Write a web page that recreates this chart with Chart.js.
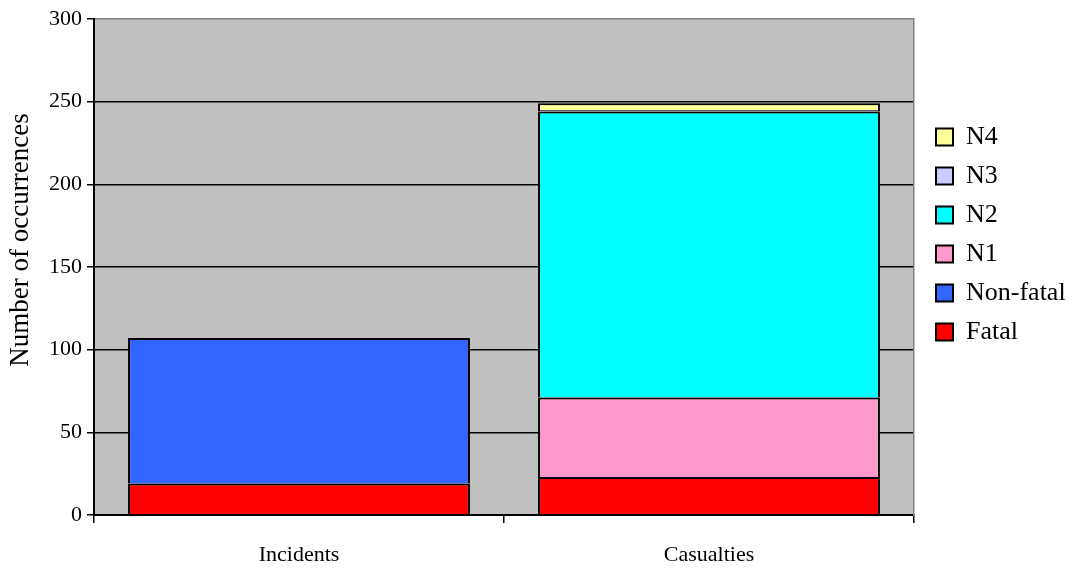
<!DOCTYPE html>
<html>
<head>
<meta charset="utf-8">
<script src="https://cdn.jsdelivr.net/npm/chart.js@4"></script>
<style>
  html, body { margin: 0; padding: 0; background: #ffffff; }
  #wrap { width: 1073px; height: 568px; position: relative; }
</style>
</head>
<body>
<div id="wrap"><canvas id="c"></canvas></div>
<script>
// ---- data ----
const categories = ['Incidents', 'Casualties'];
const fatal    = [19, 23];
const nonFatal = [88, null];
const n1       = [null, 48];
const n2       = [null, 173];
const n3       = [null, 1];
const n4       = [null, 4];
const yMin = 0, yMax = 300, yStep = 50;
const yTitle = 'Number of occurrences';

const FONT = "'Liberation Serif', 'Times New Roman', serif";

const plotBg = {
  id: 'plotBg',
  beforeDraw(chart) {
    const { ctx, chartArea: a } = chart;
    ctx.save();
    ctx.fillStyle = '#C0C0C0';
    ctx.fillRect(a.left, a.top, a.right - a.left, a.bottom - a.top);
    ctx.restore();
  }
};

function ds(label, data, color) {
  return {
    label, data,
    backgroundColor: color,
    borderColor: '#000000',
    borderWidth: 2,
    barPercentage: 0.834,
    categoryPercentage: 1.0
  };
}

new Chart(document.getElementById('c'), {
  type: 'bar',
  data: {
    labels: categories,
    datasets: [
      ds('Fatal', fatal, '#FF0000'),
      ds('Non-fatal', nonFatal, '#3366FF'),
      ds('N1', n1, '#FF99CC'),
      ds('N2', n2, '#00FFFF'),
      ds('N3', n3, '#CCCCFF'),
      ds('N4', n4, '#FFFF99')
    ]
  },
  options: {
    responsive: true,
    maintainAspectRatio: false,
    animation: false,
    layout: { padding: { left: 0, right: 0, top: 19, bottom: 0 } },
    plugins: {
      tooltip: { enabled: false },
      legend: {
        position: 'right',
        align: 'start',
        reverse: true,
        maxWidth: 150,
        title: { display: true, text: ' ', padding: { top: 82, bottom: 0 }, font: { size: 10, lineHeight: 1 } },
        labels: {
          boxWidth: 17, boxHeight: 17, padding: 13,
          color: '#000000',
          font: { family: FONT, size: 26 }
        }
      }
    },
    scales: {
      x: {
        stacked: true,
        ticks: { color: '#000000', font: { family: FONT, size: 22 }, padding: 19, maxRotation: 0 },
        grid: { display: true, drawOnChartArea: false, drawTicks: true, tickLength: 8, color: '#000000', lineWidth: 1.5, offset: true },
        border: { color: '#000000', width: 2 },
        afterFit(s) { s.height = 53; }
      },
      y: {
        stacked: true,
        min: yMin, max: yMax,
        ticks: { stepSize: yStep, color: '#000000', font: { family: FONT, size: 22 }, padding: 5 },
        grid: {
          color: (c) => (c.tick && c.tick.value === yMax) ? '#808080' : '#000000',
          lineWidth: 1.5,
          tickColor: '#000000',
          tickLength: 7
        },
        border: { color: '#000000', width: 2 },
        title: {
          display: true,
          text: '        ' + yTitle,
          color: '#000000',
          font: { family: FONT, size: 27 },
          padding: { top: 5, bottom: 0 }
        },
        afterFit(s) { s.width = 94; }
      },
      y2: {
        position: 'right',
        display: true,
        grid: { display: false, drawTicks: false },
        ticks: { display: false },
        border: { display: true, color: '#808080', width: 1.5 },
        afterFit(s) { s.width = 9; }
      }
    }
  },
  plugins: [plotBg]
});
</script>
</body>
</html>
